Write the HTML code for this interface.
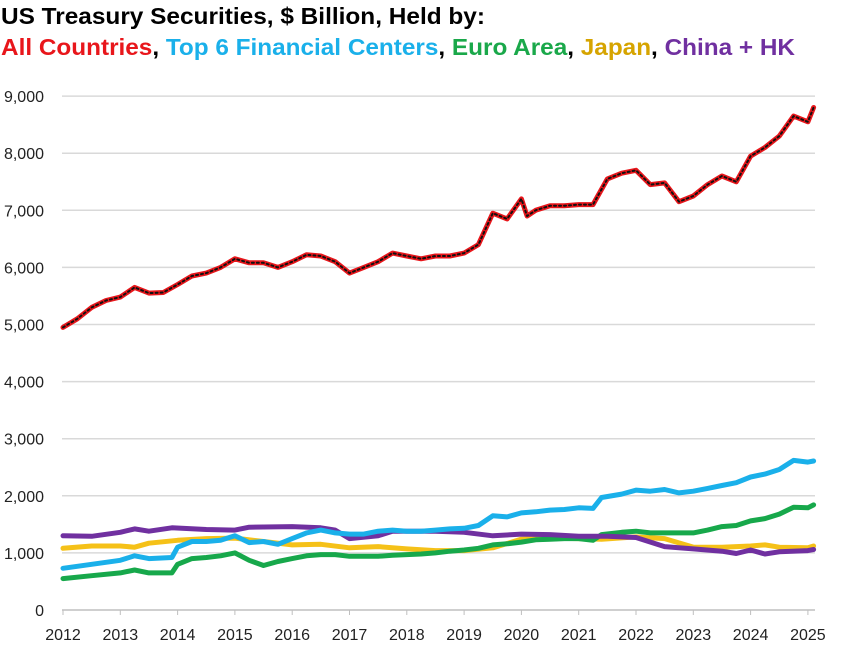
<!DOCTYPE html>
<html><head><meta charset="utf-8"><style>
body{margin:0;background:#fff;}
svg{display:block;font-family:"Liberation Sans",sans-serif;}
</style></head><body>
<svg id="chart" width="844" height="658" viewBox="0 0 844 658">
<text x="1" y="24" font-size="23" font-weight="bold" fill="#000" textLength="484" lengthAdjust="spacingAndGlyphs">US Treasury Securities, $ Billion, Held by:</text>
<text x="1" y="55" font-size="23" font-weight="bold" textLength="794" lengthAdjust="spacingAndGlyphs"><tspan fill="#e8161b">All Countries</tspan><tspan fill="#000">, </tspan><tspan fill="#1ab0ea">Top 6 Financial Centers</tspan><tspan fill="#000">, </tspan><tspan fill="#1aa84a">Euro Area</tspan><tspan fill="#000">, </tspan><tspan fill="#d6a400">Japan</tspan><tspan fill="#000">, </tspan><tspan fill="#7030a0">China + HK</tspan></text>
<g id="grid"></g><g id="axes"></g><g id="series"></g>
</svg>
<script>
const yTicks=[0,1000,2000,3000,4000,5000,6000,7000,8000,9000];
const yTickLabels=["0","1,000","2,000","3,000","4,000","5,000","6,000","7,000","8,000","9,000"];
const xTicks=[2012,2013,2014,2015,2016,2017,2018,2019,2020,2021,2022,2023,2024,2025];
const allDates=[2012,2012.25,2012.5,2012.75,2013,2013.25,2013.5,2013.75,2014,2014.25,2014.5,2014.75,2015,2015.25,2015.5,2015.75,2016,2016.25,2016.5,2016.75,2017,2017.25,2017.5,2017.75,2018,2018.25,2018.5,2018.75,2019,2019.25,2019.5,2019.75,2020,2020.1,2020.25,2020.5,2020.75,2021,2021.25,2021.5,2021.75,2022,2022.25,2022.5,2022.75,2023,2023.25,2023.5,2023.75,2024,2024.25,2024.5,2024.75,2025,2025.1];
const allValues=[4950,5100,5300,5420,5480,5650,5550,5560,5700,5850,5900,6000,6150,6080,6080,6000,6100,6220,6200,6100,5900,6000,6100,6250,6200,6150,6200,6200,6250,6400,6950,6850,7200,6900,7000,7080,7080,7100,7100,7550,7650,7700,7450,7480,7150,7250,7450,7600,7500,7950,8100,8300,8650,8550,8800];
const fcDates=[2012,2012.5,2013,2013.25,2013.5,2013.9,2014,2014.25,2014.5,2014.75,2015,2015.25,2015.5,2015.75,2016,2016.25,2016.5,2016.75,2017,2017.25,2017.5,2017.75,2018,2018.25,2018.5,2018.75,2019,2019.25,2019.5,2019.75,2020,2020.25,2020.5,2020.75,2021,2021.25,2021.4,2021.75,2022,2022.25,2022.5,2022.75,2023,2023.25,2023.5,2023.75,2024,2024.25,2024.5,2024.75,2025,2025.1];
const top6Values=[730,800,870,950,900,920,1100,1200,1200,1220,1300,1180,1200,1150,1250,1350,1400,1350,1330,1330,1380,1400,1380,1380,1400,1420,1430,1480,1650,1630,1700,1720,1750,1760,1790,1780,1970,2030,2100,2080,2110,2050,2080,2130,2180,2230,2330,2380,2460,2620,2590,2610];
const euroValues=[550,600,650,700,650,650,800,900,920,950,1000,870,780,850,900,950,970,970,940,940,940,960,970,980,1000,1030,1050,1080,1140,1160,1190,1230,1240,1250,1250,1220,1320,1360,1380,1350,1350,1350,1350,1400,1460,1480,1560,1600,1680,1800,1790,1840];
const japanDates=[2012,2012.5,2013,2013.25,2013.5,2014,2014.5,2015,2015.5,2016,2016.5,2017,2017.5,2018,2018.5,2019,2019.5,2020,2020.5,2021,2021.4,2022,2022.5,2023,2023.5,2024,2024.25,2024.5,2025,2025.1];
const japanValues=[1080,1120,1120,1100,1170,1220,1250,1260,1200,1140,1150,1090,1110,1070,1040,1040,1090,1240,1260,1250,1240,1280,1250,1100,1100,1120,1140,1100,1090,1120];
const chinaDates=[2012,2012.5,2013,2013.25,2013.5,2013.9,2014.5,2015,2015.25,2016,2016.5,2016.75,2017,2017.5,2017.75,2018.5,2019,2019.5,2020,2020.5,2021,2021.5,2022,2022.5,2023,2023.5,2023.75,2024,2024.25,2024.5,2025,2025.1];
const chinaValues=[1300,1290,1360,1420,1380,1440,1410,1400,1450,1460,1440,1400,1250,1300,1380,1380,1360,1300,1330,1320,1290,1290,1270,1110,1070,1030,990,1050,980,1020,1040,1060];

const NS="http://www.w3.org/2000/svg";
const x0=63,xPerYear=57.3,y0=610,yPer=0.0571;
function xs(t){return x0+(t-2012)*xPerYear;}
function ys(v){return y0-v*yPer;}
const grid=document.getElementById('grid'),axes=document.getElementById('axes'),ser=document.getElementById('series');
yTicks.forEach((v,i)=>{
  if(v>0){const l=document.createElementNS(NS,'line');
  
  
  l.setAttribute('x1',62);l.setAttribute('x2',815);l.setAttribute('y1',ys(v));l.setAttribute('y2',ys(v));
  l.setAttribute('stroke','#d9d9d9');l.setAttribute('stroke-width','1.5');grid.appendChild(l);}
  const t=document.createElementNS(NS,'text');
  
  
  t.setAttribute('x',44);t.setAttribute('y',ys(v)+6);t.setAttribute('text-anchor','end');t.setAttribute('font-size','16');t.setAttribute('fill','#222');
  t.textContent=yTickLabels[i];axes.appendChild(t);
});
const ax=document.createElementNS(NS,'line');


ax.setAttribute('x1',62);ax.setAttribute('x2',815);ax.setAttribute('y1',y0);ax.setAttribute('y2',y0);ax.setAttribute('stroke','#bfbfbf');ax.setAttribute('stroke-width','1.5');axes.appendChild(ax);
xTicks.forEach(yr=>{
  const tk=document.createElementNS(NS,'line');
  
  
  tk.setAttribute('x1',xs(yr));tk.setAttribute('x2',xs(yr));tk.setAttribute('y1',y0);tk.setAttribute('y2',y0+5);tk.setAttribute('stroke','#bfbfbf');axes.appendChild(tk);
  const t=document.createElementNS(NS,'text');
  
  
  t.setAttribute('x',xs(yr));t.setAttribute('y',640);t.setAttribute('text-anchor','middle');t.setAttribute('font-size','16');t.setAttribute('fill','#222');
  t.textContent=String(yr);axes.appendChild(t);
});
function pts(d,v){return d.map((t,i)=>xs(t).toFixed(1)+','+ys(v[i]).toFixed(1)).join(' ');}
function line(name,d,v,color,w,dash){
  const p=document.createElementNS(NS,'polyline');
  
  
  p.setAttribute('points',pts(d,v));p.setAttribute('fill','none');p.setAttribute('stroke',color);p.setAttribute('stroke-width',w);
  p.setAttribute('stroke-linejoin','round');p.setAttribute('stroke-linecap','round');
  if(dash)p.setAttribute('stroke-dasharray',dash);
  ser.appendChild(p);
}
line('japan-line',japanDates,japanValues,'#f5c118',5);
line('euro-area-line',fcDates,euroValues,'#17a84b',5);
line('china-hk-line',chinaDates,chinaValues,'#7030a0',5);
line('top6-financial-centers-line',fcDates,top6Values,'#1ab0ea',5);
line('all-countries-line',allDates,allValues,'#e8161b',5);
line('all-countries-dotted-overlay',allDates,allValues,'#111',2,'2,3');
</script>
</body></html>
